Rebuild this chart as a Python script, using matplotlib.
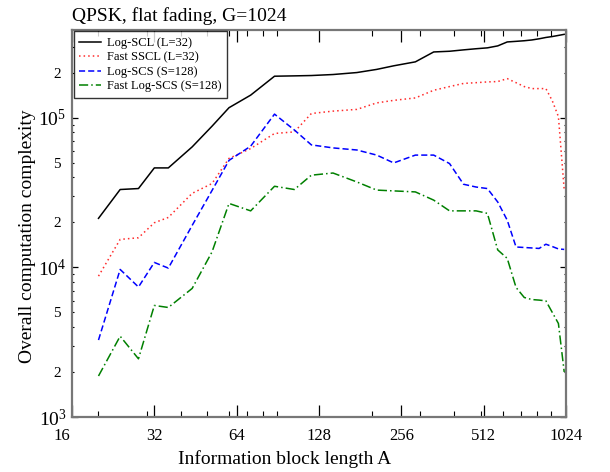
import matplotlib
matplotlib.use("Agg")
import matplotlib.pyplot as plt
from matplotlib.ticker import FixedLocator, FuncFormatter, NullFormatter, LogLocator
from matplotlib.transforms import ScaledTranslation
import numpy as np

plt.rcParams['font.family'] = ['Liberation Serif', 'DejaVu Serif']
plt.rcParams['mathtext.fontset'] = 'custom'
plt.rcParams['mathtext.rm'] = 'Liberation Serif'
plt.rcParams['mathtext.it'] = 'Liberation Serif:italic'

title = "QPSK, flat fading, G=1024"
xlabel = "Information block length A"
ylabel = "Overall computation complexity"

A = [20, 24, 28, 32, 36, 44, 52, 60, 72, 88, 104, 120, 144, 176, 208, 240,
     288, 336, 384, 432, 480, 528, 576, 624, 672, 720, 768, 816, 864, 912, 960, 1008]

log_scl = [2.13e4, 3.32e4, 3.37e4, 4.63e4, 4.63e4, 6.4e4, 8.8e4, 1.17e5, 1.42e5, 1.90e5,
           1.91e5, 1.92e5, 1.95e5, 2.01e5, 2.11e5, 2.23e5, 2.37e5, 2.76e5, 2.79e5, 2.85e5,
           2.90e5, 2.94e5, 3.03e5, 3.22e5, 3.25e5, 3.28e5, 3.32e5, 3.38e5, 3.45e5, 3.50e5,
           3.56e5, 3.62e5]
fast_sscl = [8.75e3, 1.54e4, 1.58e4, 1.99e4, 2.16e4, 3.13e4, 3.64e4, 5.36e4, 6.24e4, 7.87e4,
             8.06e4, 1.07e5, 1.11e5, 1.14e5, 1.26e5, 1.31e5, 1.36e5, 1.53e5, 1.62e5, 1.70e5,
             1.72e5, 1.74e5, 1.75e5, 1.83e5, 1.72e5, 1.62e5, 1.57e5, 1.57e5, 1.57e5, 1.30e5,
             1.02e5, 3.3e4]
log_scs = [3.27e3, 9.7e3, 7.4e3, 1.08e4, 9.9e3, 1.91e4, 3.27e4, 5.2e4, 6.47e4, 1.06e5,
           8.3e4, 6.6e4, 6.3e4, 6.1e4, 5.64e4, 5.0e4, 5.64e4, 5.64e4, 4.95e4, 3.6e4,
           3.45e4, 3.37e4, 2.74e4, 2.07e4, 1.37e4, 1.36e4, 1.35e4, 1.34e4, 1.43e4, 1.38e4,
           1.33e4, 1.32e4]
fast_log_scs = [1.88e3, 3.47e3, 2.45e3, 5.57e3, 5.4e3, 7.24e3, 1.27e4, 2.68e4, 2.39e4, 3.49e4,
                3.32e4, 4.14e4, 4.28e4, 3.73e4, 3.29e4, 3.25e4, 3.2e4, 2.82e4, 2.39e4, 2.39e4,
                2.39e4, 2.3e4, 1.31e4, 1.15e4, 7.35e3, 6.3e3, 6.1e3, 6.05e3, 5.98e3, 5.0e3,
                4.22e3, 2.0e3]

labels = ["Log-SCL (L=32)", "Fast SSCL (L=32)", "Log-SCS (S=128)", "Fast Log-SCS (S=128)"]
xticks = [16, 32, 64, 128, 256, 512, 1024]

fig = plt.figure(figsize=(6.1, 4.72), dpi=100)
ax = fig.add_axes([0.118, 0.1165, 0.81, 0.821])

ax.plot(A, log_scl, color='black', lw=1.1, ls='-', label=labels[0])
ax.plot(A, fast_sscl, color='#ff2a2a', lw=1.1, ls=(0, (1, 2)), label=labels[1])
ax.plot(A, log_scs, color='#0000ff', lw=1.1, ls=(0, (4, 2)), label=labels[2])
ax.plot(A, fast_log_scs, color='#008000', lw=1.1, ls=(0, (6, 2, 1, 2)), label=labels[3])

ax.set_xscale('log', base=2)
ax.set_yscale('log')
ax.set_xlim(16, 1024)
ax.set_ylim(1e3, 3.9e5)

ax.xaxis.set_major_locator(FixedLocator(xticks))
ax.xaxis.set_major_formatter(FuncFormatter(lambda v, p: "%d" % round(v)))
ax.xaxis.set_minor_locator(LogLocator(base=10, subs=np.arange(2, 10), numticks=20))
ax.xaxis.set_minor_formatter(NullFormatter())

ax.yaxis.set_major_locator(LogLocator(base=10, numticks=10))
ax.yaxis.set_major_formatter(FuncFormatter(lambda v, p: r"$10^{%d}$" % round(np.log10(v))))
ax.yaxis.set_minor_locator(LogLocator(base=10, subs=np.arange(2, 10), numticks=20))

def minor_fmt(v, p):
    m = v / 10 ** np.floor(np.log10(v) + 1e-9)
    m = round(m)
    return str(m) if m in (2, 5) else ""
ax.yaxis.set_minor_formatter(FuncFormatter(minor_fmt))

ax.tick_params(axis='both', which='both', direction='in', top=True, right=True,
               labelsize=12, color='black')
ax.tick_params(axis='x', which='major', length=8.5, width=0.9, pad=8)
ax.tick_params(axis='x', which='minor', length=4.5, width=0.8)
ax.tick_params(axis='y', which='major', length=4.5, width=0.9, pad=4)
ax.tick_params(axis='y', which='minor', length=1.5, width=0.8, pad=8)
ax.tick_params(axis='y', which='major', labelsize=14)
ax.tick_params(axis='y', which='minor', labelsize=11)

for s in ax.spines.values():
    s.set_color('#777777')
    s.set_linewidth(1.6)

ax.set_xlabel(xlabel, fontsize=14)
ax.set_ylabel(ylabel, fontsize=14)
ax.xaxis.set_label_coords(0.43, -0.085)
ax.yaxis.set_label_coords(-0.073, 0.467)
ax.set_title(title, fontsize=14, loc='left', pad=6)

leg = ax.legend(loc='upper left', fontsize=9, frameon=True, fancybox=False,
                edgecolor='black', handlelength=1.7, borderpad=0.45, labelspacing=0.2,
                borderaxespad=0.15, handletextpad=0.5)
leg.get_frame().set_linewidth(1.0)

fig.canvas.draw()
first = ax.xaxis.get_majorticklabels()[0]
first.set_transform(first.get_transform() + ScaledTranslation(-0.1, 0, fig.dpi_scale_trans))

fig.savefig("out.png", dpi=100)
